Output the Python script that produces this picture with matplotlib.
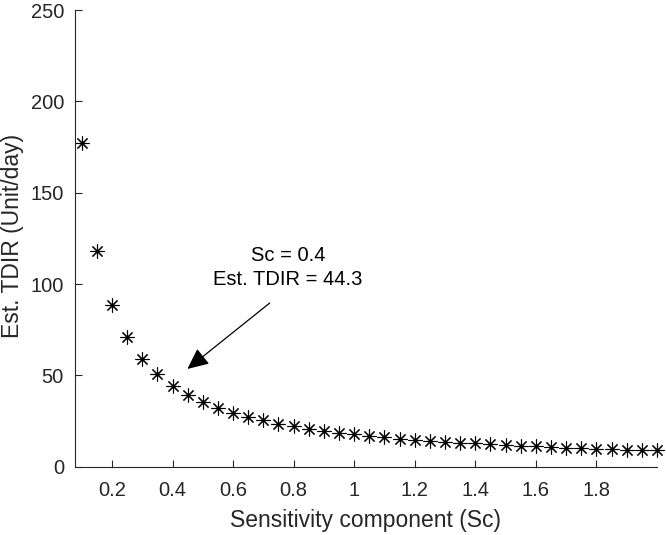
import matplotlib
matplotlib.use("Agg")
import matplotlib.pyplot as plt

sc = [0.10, 0.15, 0.20, 0.25, 0.30, 0.35, 0.40, 0.45, 0.50, 0.55,
      0.60, 0.65, 0.70, 0.75, 0.80, 0.85, 0.90, 0.95, 1.00, 1.05,
      1.10, 1.15, 1.20, 1.25, 1.30, 1.35, 1.40, 1.45, 1.50, 1.55,
      1.60, 1.65, 1.70, 1.75, 1.80, 1.85, 1.90, 1.95, 2.00]
tdir = [177.2, 118.1, 88.6, 70.9, 59.1, 50.6, 44.3, 39.4, 35.4, 32.2,
        29.5, 27.3, 25.3, 23.6, 22.2, 20.8, 19.7, 18.7, 17.7, 16.9,
        16.1, 15.4, 14.8, 14.2, 13.6, 13.1, 12.7, 12.2, 11.8, 11.4,
        11.1, 10.7, 10.4, 10.1, 9.8, 9.6, 9.3, 9.1, 8.9]
xticks = [0.2, 0.4, 0.6, 0.8, 1.0, 1.2, 1.4, 1.6, 1.8]
xticklabels = ["0.2", "0.4", "0.6", "0.8", "1", "1.2", "1.4", "1.6", "1.8"]
yticks = [0, 50, 100, 150, 200, 250]

plt.rcParams['font.family'] = ['Liberation Sans', 'DejaVu Sans']
txt = '#262626'
fs = 14.5
lfs = 16.5

fig = plt.figure(figsize=(6.66, 5.35), dpi=100)
ax = fig.add_axes([75/666, 68.3/535, 582/666, 456.7/535])
ax.plot(sc, tdir, linestyle='none', marker=(8, 2, 0), markersize=10,
        markeredgewidth=0.8, color='black', clip_on=False)
ax.set_xlim(0.078, 2.0)
ax.set_ylim(0, 250)
ax.set_xticks(xticks)
ax.set_xticklabels(xticklabels)
ax.set_yticks(yticks)
for s in ['top', 'right']:
    ax.spines[s].set_visible(False)
for s in ['left', 'bottom']:
    ax.spines[s].set_color(txt)
    ax.spines[s].set_linewidth(0.8)
ax.tick_params(direction='in', length=5, width=0.8, colors=txt,
               labelsize=fs)
ax.tick_params(axis='x', pad=10)
ax.tick_params(axis='y', pad=8)
ax.set_xlabel('Sensitivity component (Sc)', fontsize=lfs, color=txt)
ax.set_ylabel('Est. TDIR (Unit/day)', fontsize=lfs, color=txt)
ax.xaxis.label.set_va('center')
ax.yaxis.label.set_va('center')
ax.xaxis.set_label_coords(0.5, (466.7 - 520) / 456.7)
ax.yaxis.set_label_coords((13 - 75) / 582, (466.7 - 236) / 456.7)

ax.text(0.781, 109.0, 'Sc = 0.4\nEst. TDIR = 44.3', ha='center', va='center',
        fontsize=fs, color='black', linespacing=1.3)
ax.annotate('', xy=(0.449, 53.5), xytext=(0.721, 89.6),
            arrowprops=dict(arrowstyle='-|>,head_length=0.65,head_width=0.3',
                            color='black', lw=0.9, mutation_scale=20,
                            shrinkA=0, shrinkB=0))

fig.savefig('out.png', dpi=100)
